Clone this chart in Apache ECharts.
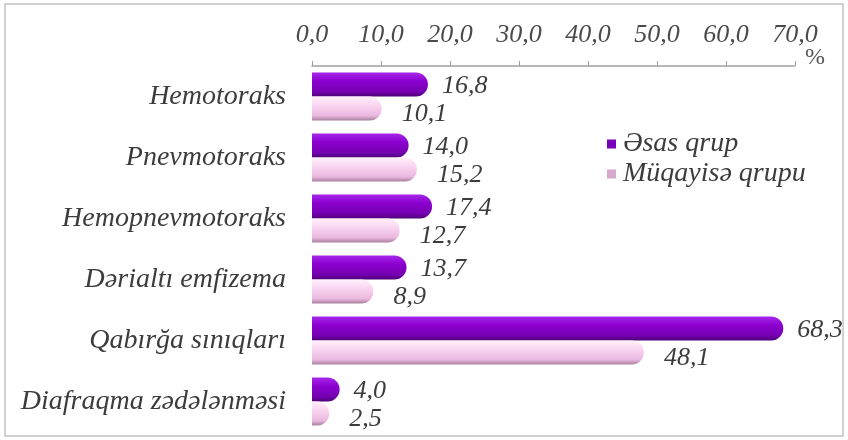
<!DOCTYPE html>
<html>
<head>
<meta charset="utf-8">
<script src="https://cdn.jsdelivr.net/npm/echarts@6/dist/echarts.min.js"></script>
<style>
  html, body { margin: 0; padding: 0; background: #fff; }
  #chart { width: 848px; height: 440px; }
</style>
</head>
<body>
<div id="chart"></div>
<script>
// Injury categories, top to bottom
const categories = [
  'Hemotoraks',
  'Pnevmotoraks',
  'Hemopnevmotoraks',
  'Dərialtı emfizema',
  'Qabırğa sınıqları',
  'Diafraqma zədələnməsi'
];
const seriesNames = ['Əsas qrup', 'Müqayisə qrupu'];
// Percentages per group
const mainGroup = [16.8, 14.0, 17.4, 13.7, 68.3, 4.0];
const compareGroup = [10.1, 15.2, 12.7, 8.9, 48.1, 2.5];
// Value axis range
const axisMin = 0;
const axisMax = 70;
const axisStep = 10;

const serif = '"Liberation Serif", "DejaVu Serif", serif';
const fmt = v => Number(v).toFixed(1).replace('.', ',');
const textColor = '#3c3c3c';

const purpleFill = new echarts.graphic.LinearGradient(0, 0, 0, 1, [
  { offset: 0, color: '#a528ea' },
  { offset: 0.35, color: '#8c00d0' },
  { offset: 0.8, color: '#7400b0' },
  { offset: 1, color: '#4e0078' }
]);
const pinkFill = new echarts.graphic.LinearGradient(0, 0, 0, 1, [
  { offset: 0, color: '#fff0fb' },
  { offset: 0.35, color: '#fad6f2' },
  { offset: 0.8, color: '#eab8df' },
  { offset: 1, color: '#a9809f' }
]);

const chart = echarts.init(document.getElementById('chart'));
chart.setOption({
  animation: false,
  backgroundColor: '#ffffff',
  graphic: [{
    type: 'rect',
    shape: { x: 5, y: 4, width: 838, height: 432 },
    style: { fill: 'none', stroke: '#d0d0d0', lineWidth: 2 },
    silent: true,
    z: -1
  }],
  grid: { left: 312, top: 66, width: 483, height: 366, containLabel: false },
  legend: {
    orient: 'vertical',
    left: 602,
    top: 125,
    icon: 'rect',
    itemWidth: 9,
    itemHeight: 9,
    itemGap: 2,
    textStyle: {
      fontFamily: serif, fontStyle: 'italic', fontSize: 28, lineHeight: 28,
      color: textColor, padding: [0, 0, 0, 2]
    },
    data: [
      { name: seriesNames[0], itemStyle: { color: '#7a00b8' } },
      { name: seriesNames[1], itemStyle: { color: '#d6a8cc' } }
    ]
  },
  xAxis: {
    type: 'value',
    position: 'top',
    min: axisMin,
    max: axisMax,
    interval: axisStep,
    name: '%',
    nameLocation: 'end',
    nameGap: 10,
    nameMoveOverlap: false,
    nameTextStyle: {
      fontFamily: serif, fontSize: 24, lineHeight: 24, color: '#555',
      verticalAlign: 'bottom', padding: [0, 0, -4, 0]
    },
    axisLine: { show: true, lineStyle: { color: '#a0a0a0', width: 1.5 } },
    axisTick: { show: true, length: 5, lineStyle: { color: '#a0a0a0' } },
    axisLabel: {
      margin: 18,
      formatter: fmt,
      fontFamily: serif,
      fontStyle: 'italic',
      fontSize: 26,
      color: '#4a4a4a'
    },
    splitLine: { show: false }
  },
  yAxis: {
    type: 'category',
    data: categories,
    inverse: true,
    axisLine: { show: false },
    axisTick: { show: false },
    axisLabel: {
      margin: 26,
      fontFamily: serif,
      fontStyle: 'italic',
      fontSize: 28,
      color: textColor,
      padding: [6, 0, 0, 0]
    }
  },
  series: [
    {
      name: seriesNames[0],
      type: 'bar',
      data: mainGroup,
      barWidth: 24,
      barGap: '0%',
      itemStyle: { color: purpleFill, borderRadius: [0, 12, 12, 0] },
      label: {
        show: true,
        position: 'right',
        distance: 14,
        offset: [0, 2],
        formatter: p => fmt(p.value),
        fontFamily: serif,
        fontStyle: 'italic',
        fontSize: 26,
        color: textColor
      }
    },
    {
      name: seriesNames[1],
      type: 'bar',
      data: compareGroup,
      barWidth: 24,
      barGap: '0%',
      itemStyle: { color: pinkFill, borderRadius: [0, 12, 12, 0] },
      label: {
        show: true,
        position: 'right',
        distance: 20,
        offset: [0, 6],
        formatter: p => fmt(p.value),
        fontFamily: serif,
        fontStyle: 'italic',
        fontSize: 26,
        color: textColor
      }
    }
  ]
});
</script>
</body>
</html>
